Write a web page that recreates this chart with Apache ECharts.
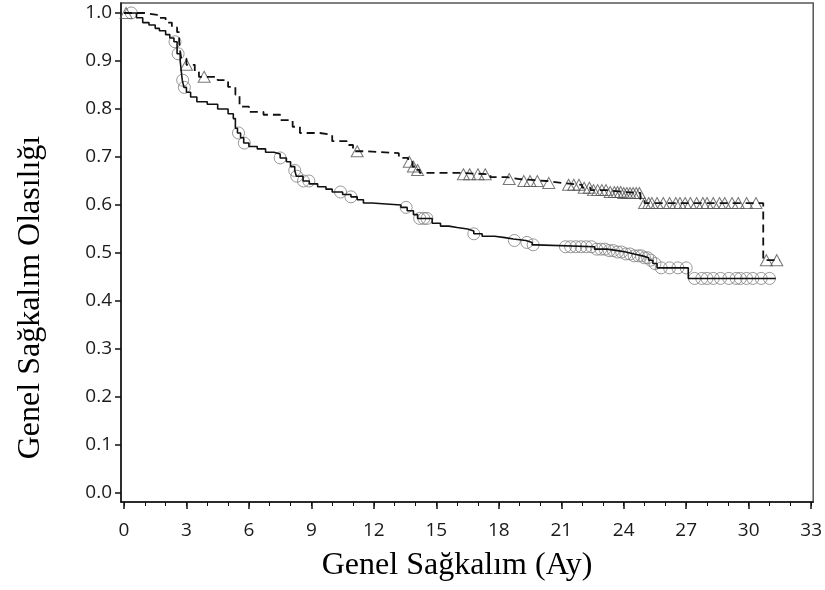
<!DOCTYPE html>
<html>
<head>
<meta charset="utf-8">
<script src="https://cdn.jsdelivr.net/npm/echarts@6/dist/echarts.min.js"></script>
<style>
html,body{margin:0;padding:0;background:#fff;}
#chart{width:825px;height:590px;}
</style>
</head>
<body>
<div id="chart"></div>
<script>
// Group 1 (solid line, circle censor marks): Kaplan-Meier step times and survival
const solidTimes = [0, 0.6, 0.9, 1.2, 1.5, 1.7, 2.0, 2.2, 2.4, 2.55, 2.7, 2.76, 2.8, 2.88, 3.0, 3.2, 3.5, 4.0, 4.5, 5.0, 5.25, 5.35, 5.45, 5.6, 5.75, 6.0, 6.4, 6.8, 7.2, 7.5, 7.8, 8.0, 8.2, 8.28, 8.6, 8.9, 9.3, 9.7, 10.0, 10.5, 10.9, 11.2, 11.5, 11.9, 13.3, 13.6, 13.9, 14.1, 14.8, 15.2, 15.6, 16.0, 16.5, 16.8, 17.2, 17.8, 18.3, 18.7, 19.3, 19.6, 19.8, 22.6, 23.2, 23.7, 24.1, 24.5, 24.9, 25.2, 25.4, 25.6, 27.1];
const solidSurv = [1.0, 0.99, 0.98, 0.975, 0.968, 0.963, 0.955, 0.948, 0.94, 0.915, 0.9, 0.875, 0.86, 0.845, 0.835, 0.825, 0.815, 0.81, 0.8, 0.79, 0.78, 0.76, 0.75, 0.74, 0.729, 0.722, 0.717, 0.71, 0.706, 0.698, 0.69, 0.68, 0.672, 0.66, 0.65, 0.644, 0.638, 0.633, 0.627, 0.622, 0.617, 0.611, 0.604, 0.6, 0.595, 0.588, 0.58, 0.572, 0.562, 0.556, 0.553, 0.55, 0.546, 0.54, 0.535, 0.532, 0.529, 0.526, 0.522, 0.517, 0.513, 0.508, 0.505, 0.502, 0.498, 0.494, 0.49, 0.485, 0.478, 0.469, 0.447];
const solidEnd = 31.3;
const solidCensor = [0.35, 2.45, 2.6, 2.82, 2.9, 5.5, 5.78, 7.5, 8.2, 8.3, 8.62, 8.88, 10.4, 10.9, 13.55, 14.2, 14.4, 14.55, 16.8, 18.75, 19.35, 19.65, 21.2, 21.45, 21.7, 21.95, 22.2, 22.45, 22.7, 22.9, 23.1, 23.3, 23.5, 23.7, 23.9, 24.1, 24.3, 24.5, 24.7, 24.85, 25.0, 25.15, 25.3, 25.5, 25.8, 26.2, 26.6, 27.0, 27.4, 27.75, 28.0, 28.3, 28.65, 29.05, 29.4, 29.6, 29.9, 30.2, 30.6, 31.0];

// Group 2 (dashed line, triangle censor marks)
const dashTimes = [0, 1.0, 1.6, 2.0, 2.3, 2.55, 2.65, 2.7, 2.75, 3.0, 3.4, 3.6, 4.5, 5.0, 5.35, 5.55, 6.0, 6.7, 7.5, 8.1, 8.45, 9.4, 10.0, 10.7, 11.0, 11.6, 13.2, 13.65, 13.85, 14.0, 14.2, 16.0, 17.6, 18.4, 19.0, 20.3, 21.0, 22.0, 22.4, 23.2, 24.0, 24.8, 25.0, 30.7];
const dashSurv = [1.0, 0.996, 0.99, 0.98, 0.97, 0.96, 0.94, 0.92, 0.905, 0.892, 0.877, 0.867, 0.86, 0.846, 0.83, 0.805, 0.794, 0.788, 0.777, 0.763, 0.75, 0.746, 0.733, 0.725, 0.712, 0.708, 0.698, 0.69, 0.68, 0.673, 0.667, 0.664, 0.658, 0.654, 0.65, 0.646, 0.642, 0.636, 0.631, 0.627, 0.625, 0.612, 0.604, 0.485];
const dashEnd = 31.5;
const dashCensor = [0.1, 3.0, 3.85, 11.2, 13.7, 13.9, 14.1, 16.3, 16.6, 17.0, 17.35, 18.5, 19.2, 19.5, 19.85, 20.4, 21.35, 21.6, 21.85, 22.1, 22.35, 22.55, 22.75, 22.95, 23.15, 23.35, 23.55, 23.7, 23.85, 24.0, 24.15, 24.3, 24.45, 24.6, 24.75, 25.0, 25.2, 25.35, 25.6, 25.9, 26.2, 26.5, 26.7, 26.95, 27.2, 27.5, 27.8, 28.0, 28.3, 28.6, 28.85, 29.2, 29.5, 29.9, 30.35, 30.85, 31.35];

// Axis ticks
const xTicks = [0, 3, 6, 9, 12, 15, 18, 21, 24, 27, 30, 33];
const xMinorTicks = [0,1,2,3,4,5,6,7,8,9,10,11,12,13,14,15,16,17,18,19,20,21,22,23,24,25,26,27,28,29,30,31,32,33];
const yTicks = [0, 0.1, 0.2, 0.3, 0.4, 0.5, 0.6, 0.7, 0.8, 0.9, 1.0];

const xTitle = 'Genel Sağkalım (Ay)';
const yTitle = 'Genel Sağkalım Olasılığı';

function stepData(times, surv, end) {
  const d = times.map((t, i) => [t, surv[i]]);
  d.push([end, surv[surv.length - 1]]);
  return d;
}
function censorData(cens, times, surv) {
  return cens.map(c => {
    let k = 0;
    for (let i = 0; i < times.length; i++) if (times[i] <= c) k = i;
    return [c, surv[k]];
  });
}

const chart = echarts.init(document.getElementById('chart'), null, {renderer: 'canvas'});
const tickFont = {fontFamily: 'Open Sans', fontSize: 19, color: '#1a1a1a'};
const titleFont = {fontFamily: 'Liberation Serif', fontSize: 32, color: '#000'};

chart.setOption({
  animation: false,
  backgroundColor: '#fff',
  grid: {left: 121, right: 5, top: 3, bottom: 88, show: true, borderColor: '#555', borderWidth: 1.5, backgroundColor: 'transparent'},
  xAxis: [{
    type: 'value', min: -0.143, max: 33.1,
    axisLine: {show: true, onZero: false, lineStyle: {color: '#111', width: 1.5}},
    axisTick: {show: true, customValues: xTicks, length: 7, lineStyle: {color: '#111', width: 1.5}},
    axisLabel: {show: true, customValues: xTicks, margin: 19, ...tickFont},
    splitLine: {show: false},
    name: xTitle, nameLocation: 'middle', nameGap: 48,
    nameTextStyle: {...titleFont, padding: [0, 20, 0, 0]}
  }, {
    type: 'value', min: -0.143, max: 33.1, position: 'bottom',
    axisLine: {show: false, onZero: false},
    axisTick: {show: true, customValues: xMinorTicks, length: 4, lineStyle: {color: '#111', width: 1}},
    axisLabel: {show: false},
    splitLine: {show: false}
  }],
  yAxis: {
    type: 'value', min: -0.01875, max: 1.0208,
    axisLine: {show: true, onZero: false, lineStyle: {color: '#111', width: 1.5}},
    axisTick: {show: true, customValues: yTicks, length: 6, lineStyle: {color: '#111', width: 1.5}},
    axisLabel: {show: true, customValues: yTicks, margin: 9, formatter: v => v.toFixed(1), ...tickFont},
    splitLine: {show: false},
    name: yTitle, nameLocation: 'middle', nameGap: 74, nameRotate: 90,
    nameTextStyle: {...titleFont, padding: [0, 90, 0, 0]}
  },
  series: [
    {type: 'line', step: 'end', data: stepData(solidTimes, solidSurv, solidEnd), showSymbol: false, symbol: 'none',
     lineStyle: {color: '#111', width: 1.6, type: 'solid'}, z: 3},
    {type: 'line', step: 'end', data: stepData(dashTimes, dashSurv, dashEnd), showSymbol: false, symbol: 'none',
     lineStyle: {color: '#111', width: 1.8, type: [8, 5]}, z: 3},
    {type: 'scatter', data: censorData(solidCensor, solidTimes, solidSurv), symbol: 'circle', symbolSize: 12,
     itemStyle: {color: 'rgba(0,0,0,0)', borderColor: '#808080', borderWidth: 1}, z: 2},
    {type: 'scatter', data: censorData(dashCensor, dashTimes, dashSurv), symbol: 'triangle', symbolSize: [12, 11],
     itemStyle: {color: 'rgba(0,0,0,0)', borderColor: '#555', borderWidth: 1}, z: 2}
  ]
});
</script>
</body>
</html>
